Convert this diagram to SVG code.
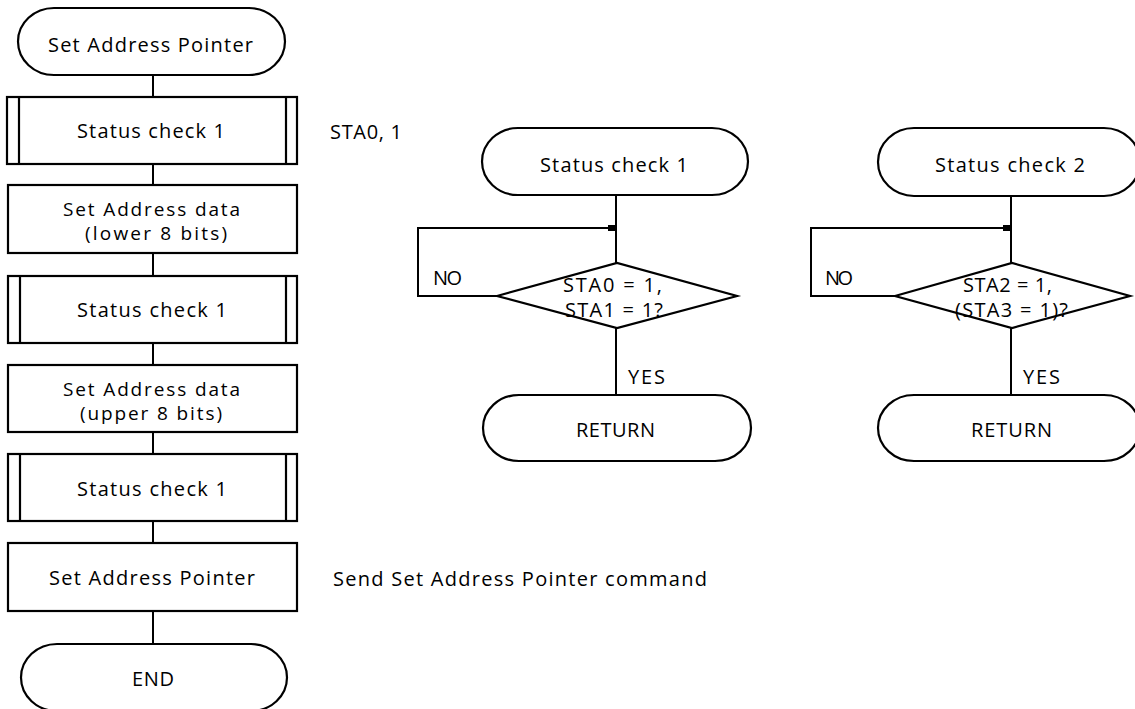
<svg xmlns="http://www.w3.org/2000/svg" width="1135" height="709" viewBox="0 0 1135 709">
  <defs>
    <style>
      .shape { fill: #ffffff; stroke: #000000; stroke-width: 2.2; }
      .bar { fill: none; stroke: #000000; stroke-width: 2.2; }
      .line { fill: none; stroke: #000000; stroke-width: 2; }
      text { font-family: "Open Sans", "Noto Sans", "DejaVu Sans", sans-serif; font-size: 20px; fill: #000000; }
      .c { text-anchor: middle; }
      .two { font-size: 19px; }
    </style>
    <marker id="arrow" markerWidth="8" markerHeight="8" refX="7" refY="4" orient="auto" markerUnits="userSpaceOnUse">
      <path d="M0,1 L7,1 L7,7 L0,7 Z" fill="#000000"/>
    </marker>
  </defs>
  <rect width="1135" height="709" fill="#ffffff"/>

  <!-- connectors -->
  <g id="connectors">
    <!-- main sequence -->
    <line class="line" x1="153" y1="75" x2="153" y2="97"/>
    <line class="line" x1="153" y1="164" x2="153" y2="185"/>
    <line class="line" x1="153" y1="253" x2="153" y2="276"/>
    <line class="line" x1="153" y1="343" x2="153" y2="365"/>
    <line class="line" x1="153" y1="432" x2="153" y2="454"/>
    <line class="line" x1="153" y1="521" x2="153" y2="543"/>
    <line class="line" x1="153" y1="611" x2="153" y2="644"/>
    <!-- status check 1 routine -->
    <line class="line" x1="616" y1="195" x2="616" y2="263"/>
    <line class="line" x1="616" y1="328" x2="616" y2="395"/>
    <path class="line" d="M497,296 H418 V228 H615" marker-end="url(#arrow)"/>
    <!-- status check 2 routine -->
    <line class="line" x1="1011" y1="196" x2="1011" y2="263"/>
    <line class="line" x1="1011" y1="328" x2="1011" y2="395"/>
    <path class="line" d="M895,296 H811 V228 H1010" marker-end="url(#arrow)"/>
  </g>

  <!-- main sequence nodes -->
  <g id="start">
    <path class="shape" d="M54,8 H249 A36,33.5 0 0 1 249,75 H54 A36,33.5 0 0 1 54,8 Z"/>
    <text x="150.5" y="52" class="c" textLength="205" lengthAdjust="spacing">Set Address Pointer</text>
  </g>
  <g id="check1a">
    <rect class="shape" x="7" y="97" width="290" height="67"/>
    <line class="bar" x1="19" y1="97" x2="19" y2="164"/>
    <line class="bar" x1="286" y1="97" x2="286" y2="164"/>
    <text x="151" y="138" class="c" textLength="148" lengthAdjust="spacing">Status check 1</text>
  </g>
  <g id="dataLow">
    <rect class="shape" x="8" y="185" width="289" height="68"/>
    <text x="151.5" y="216" class="c two" textLength="177" lengthAdjust="spacing">Set Address data</text>
    <text x="156" y="240" class="c two" textLength="142" lengthAdjust="spacing">(lower 8 bits)</text>
  </g>
  <g id="check1b">
    <rect class="shape" x="8" y="276" width="289" height="67"/>
    <line class="bar" x1="20" y1="276" x2="20" y2="343"/>
    <line class="bar" x1="286" y1="276" x2="286" y2="343"/>
    <text x="152" y="317" class="c" textLength="150" lengthAdjust="spacing">Status check 1</text>
  </g>
  <g id="dataHigh">
    <rect class="shape" x="8" y="365" width="289" height="67"/>
    <text x="151.5" y="396" class="c two" textLength="177" lengthAdjust="spacing">Set Address data</text>
    <text x="151" y="420" class="c two" textLength="142" lengthAdjust="spacing">(upper 8 bits)</text>
  </g>
  <g id="check1c">
    <rect class="shape" x="8" y="454" width="289" height="67"/>
    <line class="bar" x1="20" y1="454" x2="20" y2="521"/>
    <line class="bar" x1="286" y1="454" x2="286" y2="521"/>
    <text x="152" y="496" class="c" textLength="150" lengthAdjust="spacing">Status check 1</text>
  </g>
  <g id="setPointer">
    <rect class="shape" x="8" y="543" width="289" height="68"/>
    <text x="152" y="585" class="c" textLength="206" lengthAdjust="spacing">Set Address Pointer</text>
  </g>
  <g id="end">
    <path class="shape" d="M57,644 H251 A36,33.5 0 0 1 251,711 H57 A36,33.5 0 0 1 57,644 Z"/>
    <text x="153" y="686" class="c" textLength="42" lengthAdjust="spacing">END</text>
  </g>

  <!-- side notes -->
  <g id="noteStatus">
    <text x="330" y="139" textLength="72" lengthAdjust="spacing">STA0, 1</text>
  </g>
  <g id="noteCommand">
    <text x="333" y="586" textLength="374" lengthAdjust="spacing">Send Set Address Pointer command</text>
  </g>

  <!-- status check 1 routine -->
  <g id="sc1Start">
    <path class="shape" d="M518,128 H712 A36,33.5 0 0 1 712,195 H518 A36,33.5 0 0 1 518,128 Z"/>
    <text x="614" y="172" class="c" textLength="148" lengthAdjust="spacing">Status check 1</text>
  </g>
  <g id="sc1Decision">
    <polygon class="shape" points="497,296 617,263 737,296 617,328"/>
    <text x="563" y="292" textLength="99" lengthAdjust="spacing">STA0 = 1,</text>
    <text x="565" y="317" textLength="98" lengthAdjust="spacing">STA1 = 1?</text>
    <text x="433" y="285" textLength="29" lengthAdjust="spacing">NO</text>
    <text x="628" y="384" textLength="37" lengthAdjust="spacing">YES</text>
  </g>
  <g id="sc1Return">
    <path class="shape" d="M519,395 H715 A36,33 0 0 1 715,461 H519 A36,33 0 0 1 519,395 Z"/>
    <text x="576" y="437" textLength="79" lengthAdjust="spacing">RETURN</text>
  </g>

  <!-- status check 2 routine -->
  <g id="sc2Start">
    <path class="shape" d="M914,128 H1104 A36,34 0 0 1 1104,196 H914 A36,34 0 0 1 914,128 Z"/>
    <text x="935" y="172" textLength="150" lengthAdjust="spacing">Status check 2</text>
  </g>
  <g id="sc2Decision">
    <polygon class="shape" points="895,296 1012,263 1130,296 1012,328"/>
    <text x="963" y="292" textLength="89" lengthAdjust="spacing">STA2 = 1,</text>
    <text x="955" y="317" textLength="113" lengthAdjust="spacing">(STA3 = 1)?</text>
    <text x="825" y="285" textLength="28" lengthAdjust="spacing">NO</text>
    <text x="1023" y="384" textLength="37" lengthAdjust="spacing">YES</text>
  </g>
  <g id="sc2Return">
    <path class="shape" d="M914,395 H1104 A36,33 0 0 1 1104,461 H914 A36,33 0 0 1 914,395 Z"/>
    <text x="971" y="437" textLength="81" lengthAdjust="spacing">RETURN</text>
  </g>
</svg>
